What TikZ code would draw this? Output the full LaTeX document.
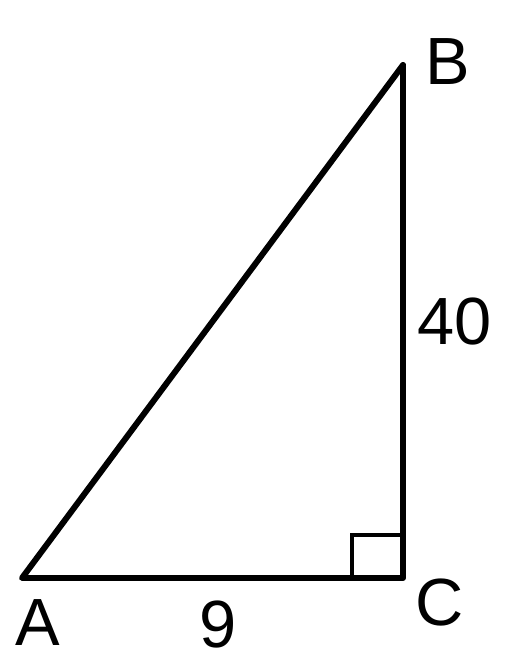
\documentclass[tikz,border=0pt]{standalone}
\usepackage{fontspec}
\setmainfont{Liberation Sans}
\usetikzlibrary{calc}

\begin{document}
\begin{tikzpicture}[font=\fontsize{19}{23}\selectfont,
  side/.style={line width=1.7pt,line join=round,line cap=round},
  vlabel/.style={inner sep=0pt}]
  \useasboundingbox (0,0) rectangle (5.06,6.61);
  \coordinate(A)at(0.22,0.83);\coordinate(C)at(4.03,0.83);\coordinate(B)at(4.03,5.96);
  \coordinate(r1)at(3.52,0.83);\coordinate(r2)at(3.52,1.26);\coordinate(r3)at(4.03,1.26);
  \draw[side] (A)--(C)--(B)--cycle;
  \draw[line width=1.2pt] (r1)--(r2)--(r3);
  \node[vlabel] (lA) at (0.38,0.38) {A};  \node[vlabel] (lC) at (4.40,0.58) {C};
  \node[vlabel] (lB) at (4.48,5.99) {B};  \node[vlabel] (lBC) at (4.55,3.39) {40};
  \node[vlabel] (lAC) at (2.18,0.36) {9};
\end{tikzpicture}
\end{document}
